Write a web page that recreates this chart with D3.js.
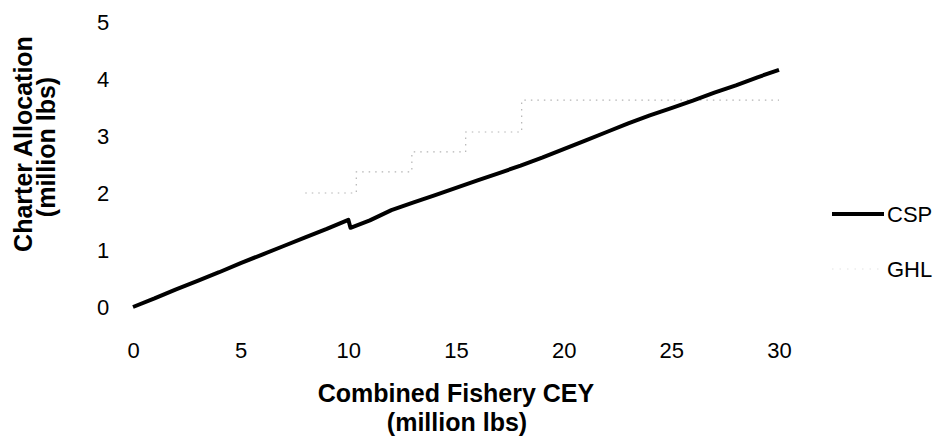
<!DOCTYPE html>
<html>
<head>
<meta charset="utf-8">
<script src="https://cdn.jsdelivr.net/npm/d3@7"></script>
<style>
  html, body { margin: 0; padding: 0; background: #fff; }
  svg { display: block; }
  text { font-family: "Liberation Sans", Arial, sans-serif; fill: #000; }
</style>
</head>
<body>
<svg id="chart" width="942" height="440"></svg>
<script>
// ---- data ----
const xTicks = [0, 5, 10, 15, 20, 25, 30];
const yTicks = [0, 1, 2, 3, 4, 5];

const cspX = [0, 1, 2, 3, 4, 5, 6, 7, 8, 9, 10, 10.1, 11, 12, 13, 14, 15, 16, 17, 18, 19, 20, 21, 22, 23, 24, 25, 26, 27, 28, 29, 30];
const cspY = [0, 0.15, 0.31, 0.46, 0.61, 0.77, 0.92, 1.07, 1.22, 1.37, 1.53, 1.39, 1.52, 1.70, 1.83, 1.96, 2.09, 2.22, 2.35, 2.48, 2.62, 2.77, 2.92, 3.07, 3.22, 3.36, 3.49, 3.62, 3.76, 3.89, 4.03, 4.16];

const ghlX = [8.0, 10.37, 12.95, 15.45, 18.05, 30];
const ghlY = [2.0, 2.37, 2.72, 3.07, 3.63, 3.63];

const seriesNames = ["CSP", "GHL"];

// ---- chart ----
const svg = d3.select("#chart");
const x = d3.scaleLinear().domain([0, 30]).range([133, 779]);
const y = d3.scaleLinear().domain([0, 5]).range([307, 22]);
const fontFam = '"Liberation Sans", Arial, sans-serif';

// x tick labels (no axis line)
const xAxis = d3.axisBottom(x).tickValues(xTicks).tickFormat(d3.format("d")).tickSize(0).tickPadding(0);
const gx = svg.append("g").attr("transform", "translate(0,342)").call(xAxis);
gx.select(".domain").remove();
gx.selectAll("text").attr("font-size", 22).attr("dy", "0.71em")
  .style("font-family", fontFam).attr("fill", "#000");

// y tick labels
const yAxis = d3.axisLeft(y).tickValues(yTicks).tickFormat(d3.format("d")).tickSize(0).tickPadding(0);
const gy = svg.append("g").attr("transform", "translate(103,0)").call(yAxis);
gy.select(".domain").remove();
gy.selectAll("text").attr("font-size", 22).attr("dy", "0.36em").attr("text-anchor", "middle")
  .style("font-family", fontFam).attr("fill", "#000");

// GHL line (faint stepped dotted)
const ghlData = ghlX.map((v, i) => [v, ghlY[i]]);
const ghlLine = d3.line().x(d => x(d[0])).y(d => y(d[1])).curve(d3.curveStepAfter);
svg.append("path")
  .datum(ghlData)
  .attr("d", ghlLine)
  .attr("fill", "none")
  .attr("stroke", "#b4b4b4")
  .attr("stroke-width", 1.2)
  .attr("stroke-dasharray", "1.5 5");

// CSP line
const cspData = cspX.map((v, i) => [v, cspY[i]]);
const cspLine = d3.line().x(d => x(d[0])).y(d => y(d[1]));
svg.append("path")
  .datum(cspData)
  .attr("d", cspLine)
  .attr("fill", "none")
  .attr("stroke", "#000")
  .attr("stroke-width", 4)
  .attr("stroke-linejoin", "round");

// axis titles
svg.append("text")
  .attr("x", 456).attr("y", 402)
  .attr("text-anchor", "middle")
  .attr("font-size", 25).attr("font-weight", "bold")
  .text("Combined Fishery CEY");
svg.append("text")
  .attr("x", 457).attr("y", 431)
  .attr("text-anchor", "middle")
  .attr("font-size", 25).attr("font-weight", "bold")
  .text("(million lbs)");

svg.append("text")
  .attr("transform", "translate(32,144) rotate(-90)")
  .attr("text-anchor", "middle")
  .attr("font-size", 25).attr("font-weight", "bold")
  .text("Charter Allocation");
svg.append("text")
  .attr("transform", "translate(55,147) rotate(-90)")
  .attr("text-anchor", "middle")
  .attr("font-size", 25).attr("font-weight", "bold")
  .text("(million lbs)");

// legend
const legend = svg.append("g");
const legendY = [214, 269];
const legendStroke = [{c: "#000", w: 4, d: null}, {c: "#e4e4e4", w: 1.2, d: "1.5 6"}];
seriesNames.forEach((name, i) => {
  legend.append("line")
    .attr("x1", 832).attr("x2", 884)
    .attr("y1", legendY[i]).attr("y2", legendY[i])
    .attr("stroke", legendStroke[i].c)
    .attr("stroke-width", legendStroke[i].w)
    .attr("stroke-dasharray", legendStroke[i].d);
  legend.append("text")
    .attr("x", 887).attr("y", legendY[i])
    .attr("dy", "0.36em")
    .attr("font-size", 22)
    .text(name);
});
</script>
</body>
</html>
